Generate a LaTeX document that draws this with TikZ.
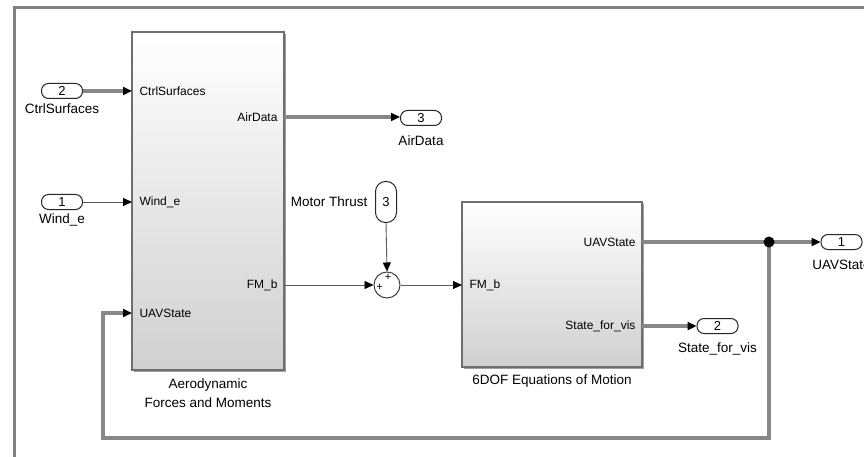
\documentclass[tikz,border=0pt]{standalone}
\usepackage{fontspec}
\setmainfont{Liberation Sans}
\usetikzlibrary{arrows.meta,shadows}

\definecolor{edgegray}{RGB}{110,110,110}
\definecolor{busgray}{RGB}{135,135,135}
\definecolor{siggray}{RGB}{90,90,90}
\definecolor{framegray}{RGB}{128,128,128}
\definecolor{shadegray}{RGB}{208,208,208}

\tikzset{
  x=1pt, y=-1pt,
  portfont/.style={font=\fontsize{12}{14}\selectfont},
  labfont/.style={font=\fontsize{13.5}{19}\selectfont},
  sysblock/.style={draw=edgegray, line width=1.2pt, rectangle, inner sep=0pt,
    top color=white, middle color=white, bottom color=shadegray,
    drop shadow={shadow xshift=1.8pt, shadow yshift=-1.8pt, fill=gray!75, opacity=1}},
  portoval/.style={draw=black!85, line width=1pt, rounded corners=7pt,
    minimum width=41pt, minimum height=15pt, inner sep=0pt, fill=white,
    font=\fontsize{13}{14}\selectfont},
  portovalv/.style={draw=black!85, line width=1pt, rounded corners=10pt,
    minimum width=21pt, minimum height=41pt, inner sep=0pt, fill=white,
    font=\fontsize{13}{14}\selectfont},
  tip/.style={-{Triangle[length=9pt,width=8pt,color=black]}},
  bus/.style={tip, draw=busgray, line width=3.2pt},
  sig/.style={tip, draw=siggray, line width=0.9pt},
  sumblock/.style={circle, draw=black!75, line width=1pt, minimum size=26pt,
    inner sep=0pt, fill=white},
  plusfont/.style={font=\fontsize{11}{11}\selectfont, inner sep=0pt, text=black},
}

\begin{document}
\begin{tikzpicture}
\useasboundingbox (0,0) rectangle (864,457);
\clip (0,0) rectangle (864,457);
\fill[white] (0,0) rectangle (864,457);

% enclosing subsystem frame
\draw[framegray, line width=2.4pt] (14.5,470) -- (14.5,7.5) -- (880,7.5);

% blocks
\node[sysblock, minimum width=152pt, minimum height=338pt] (aero) at (208,201) {};
\node[sysblock, minimum width=180pt, minimum height=165pt] (sixdof) at (552,284.5) {};
\node[labfont, align=center] (aerolab) at (208,393) {Aerodynamic\\Forces and Moments};
\node[labfont] (sixdoflab) at (552,381) {6DOF Equations of Motion};

% port positions on the block edges
\coordinate (aeroCtrl) at (132,91);
\coordinate (aeroWind) at (132,202);
\coordinate (aeroState) at (132,313);
\coordinate (aeroAir) at (284,117);
\coordinate (aeroFM) at (284,285);
\coordinate (dofFM) at (462,285);
\coordinate (dofState) at (642,242);
\coordinate (dofVis) at (642,326);

% port labels inside the blocks
\node[portfont, anchor=west] (lCtrl) at (136,91) {CtrlSurfaces};
\node[portfont, anchor=west] (lWind) at (136,202) {Wind\_e};
\node[portfont, anchor=west] (lState) at (136,313) {UAVState};
\node[portfont, anchor=east] (lAir) at (281,117) {AirData};
\node[portfont, anchor=east] (lFM) at (281,285) {FM\_b};
\node[portfont, anchor=west] (lFM2) at (466,285) {FM\_b};
\node[portfont, anchor=east] (lState2) at (639,242) {UAVState};
\node[portfont, anchor=east] (lVis) at (639,326) {State\_for\_vis};

% inports
\node[portoval] (in2) at (62,91) {2};
\node[labfont] (in2lab) at (62,109) {CtrlSurfaces};
\node[portoval] (in1) at (62,202) {1};
\node[labfont] (in1lab) at (62,220) {Wind\_e};
\node[portovalv] (in3) at (386,202) {3};
\node[labfont, anchor=east] (in3lab) at (371,202) {Motor Thrust};

% outports
\node[portoval] (out3) at (421,118) {3};
\node[labfont] (out3lab) at (421,141) {AirData};
\node[portoval] (out2) at (717.5,326) {2};
\node[labfont] (out2lab) at (717.5,349) {State\_for\_vis};
\node[portoval] (out1) at (841.5,242) {1};
\node[labfont] (out1lab) at (841.5,265) {UAVState};

% sum block
\node[sumblock] (sum) at (387,285) {};
\node[plusfont] (plusL) at (379.5,287) {+};
\node[plusfont] (plusT) at (388,277.5) {+};

% junction
\coordinate (junc) at (769,242);
\coordinate (fbR) at (769,438);
\coordinate (fbL) at (103,438);

% connectors
\draw[bus] (in2.east) -- (aeroCtrl);
\draw[sig] (in1.east) -- (aeroWind);
\draw[bus] (aeroAir) -- (out3.west |- aeroAir);
\draw[sig] (aeroFM) -- (sum.west);
\draw[sig] (in3.south) -- (sum.north);
\draw[sig] (sum.east) -- (dofFM);
\draw[bus] (dofState) -- (out1.west);
\draw[bus] (dofVis) -- (out2.west);
\draw[bus] (junc) -- (fbR) -- (fbL) |- (aeroState);
\fill[black] (junc) circle (5.5pt);
\end{tikzpicture}
\end{document}
